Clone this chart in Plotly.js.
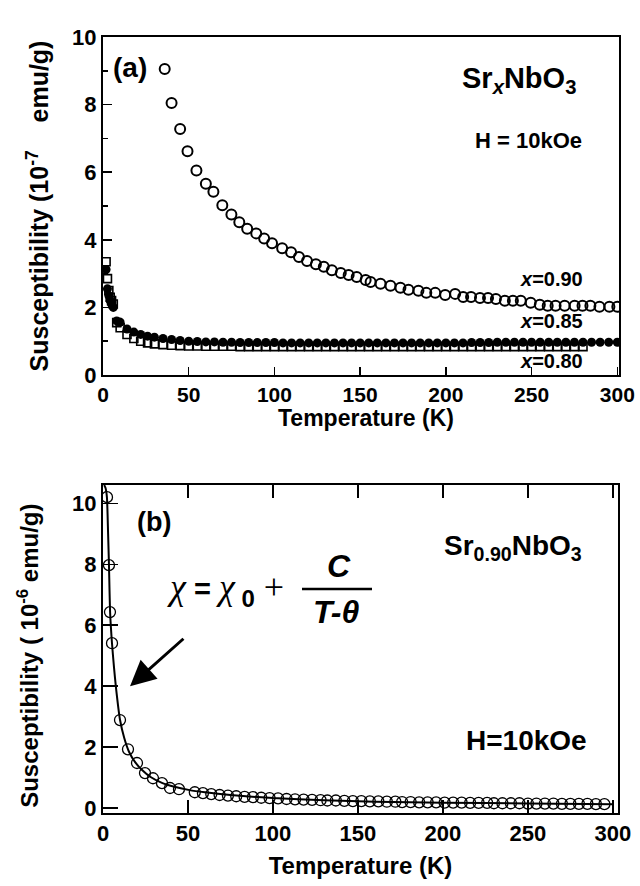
<!DOCTYPE html>
<html><head><meta charset="utf-8">
<script src="https://cdn.plot.ly/plotly-3.0.1.min.js"></script>
<style>html,body{margin:0;padding:0;background:#fff}#plot{width:640px;height:886px}</style>
</head><body><div id="plot"></div>
<script>
// Panel (a): Sr_xNbO3, susceptibility (1e-7 emu/g) vs temperature (K)
const a90_T = [36,40,45,49.3,54.5,60,64.4,69.6,74.9,79.5,84.1,89.4,94,98.6,104.5,109.7,114.3,119,124.2,128.8,133.5,138.7,143.3,148,153.2,156.1,161.9,167.7,173.5,178.2,184,188.6,193.8,199.6,205.4,210.1,214.7,219.9,224.6,229.2,234.4,239.1,243.7,249.5,254.8,259.4,264,269.3,275.1,279.7,284.3,289.6,295.4,300];
const a90_chi = [9.05,8.05,7.28,6.62,6.05,5.66,5.42,5.02,4.75,4.52,4.33,4.19,4.04,3.9,3.75,3.63,3.49,3.37,3.28,3.2,3.1,3.02,2.96,2.9,2.81,2.75,2.7,2.64,2.58,2.52,2.49,2.43,2.43,2.37,2.4,2.31,2.31,2.28,2.28,2.25,2.2,2.2,2.2,2.14,2.08,2.05,2.05,2.05,2.05,2.05,2.05,2.02,2.02,2.02];
const a85_T = [1.8,2.6,3.4,4.2,5,6,8,10,14,18,22,26,30,35,40,45,50,55,60,65,70,75,80,85,90,95,100,105,110,115,120,125,130,135,140,145,150,155,160,165,170,175,180,185,190,195,200,205,210,215,220,225,230,235,240,245,250,255,260,265,270,275,280,285,290,295,300];
const a85_chi = [3.12,2.55,2.35,2.2,2.1,2.0,1.6,1.56,1.36,1.27,1.2,1.15,1.12,1.08,1.05,1.02,1.0,0.99,0.98,0.98,0.97,0.97,0.96,0.96,0.96,0.96,0.96,0.95,0.95,0.95,0.95,0.95,0.95,0.95,0.95,0.95,0.95,0.95,0.95,0.95,0.95,0.95,0.95,0.95,0.95,0.95,0.95,0.95,0.95,0.96,0.96,0.96,0.97,0.97,0.97,0.97,0.97,0.97,0.97,0.97,0.97,0.97,0.97,0.97,0.97,0.97,0.97];
const a80_T = [1.8,2.6,3.4,4.2,5,6,8,10,14,18,22,26,30,35,40,45,50,55,60,65,70,75,80,85,90,95,100,105,110,115,120,125,130,135,140,145,150,155,160,165,170,175,180,185,190,195,200,205,210,215,220,225,230,235,240,245,250,255,260,265,270,275,280];
const a80_chi = [3.35,2.85,2.5,2.3,2.2,2.1,1.55,1.4,1.2,1.08,1.0,0.95,0.92,0.9,0.88,0.87,0.86,0.86,0.85,0.85,0.85,0.85,0.84,0.84,0.84,0.84,0.84,0.84,0.84,0.84,0.84,0.84,0.84,0.84,0.84,0.84,0.84,0.84,0.84,0.84,0.84,0.84,0.84,0.84,0.84,0.84,0.84,0.84,0.84,0.84,0.84,0.84,0.84,0.84,0.84,0.84,0.84,0.84,0.84,0.84,0.84,0.84,0.84];

// Panel (b): Sr0.90NbO3, susceptibility (1e-6 emu/g)
const b_T = [2.35,3.5,4.1,5.3,10,14.7,20,24.7,29.4,34.7,39.4,44.7,54,58.8,63.7,68.6,73.5,78.4,83.3,88.2,93.1,98,103,108,113,118,123,128,132,137,142,147,152,157,162,167,172,176,181,186,191,196,201,206,211,216,221,226,230,235,240,245,250,255,260,265,270,275,280,285,290,295];
const b_chi = [10.2,7.97,6.43,5.41,2.89,1.93,1.48,1.15,0.98,0.82,0.66,0.62,0.52,0.49,0.46,0.43,0.41,0.39,0.37,0.36,0.34,0.33,0.32,0.3,0.29,0.28,0.27,0.26,0.25,0.25,0.24,0.23,0.23,0.22,0.22,0.21,0.21,0.2,0.2,0.19,0.19,0.19,0.18,0.18,0.18,0.17,0.17,0.17,0.16,0.16,0.16,0.16,0.15,0.15,0.15,0.15,0.14,0.14,0.14,0.14,0.13,0.13];
const fit_T = [0.7,1.5,2.3,3.0,3.5,4.2,5.3,6.5,7.6,10,12.5,15.3,19,23,28,35,42,51,60,75,100,130,160,200,250,300];
const fit_chi = [10.6,10.5,10.2,9.0,8.0,6.4,5.4,4.6,3.97,2.9,2.3,1.85,1.5,1.25,1.02,0.82,0.7,0.59,0.52,0.43,0.33,0.26,0.21,0.18,0.15,0.13];

const W = 640, H = 886;
const px = x => x / W, py = y => 1 - y / H;
const FONT = 'Liberation Sans, Arial, sans-serif';
const SERIF = 'Liberation Serif, Times New Roman, serif';
const bold = (s, c) => ({family: FONT, size: s, color: c || '#000', weight: 'bold'});
const sansB = (t, s) => '<span style="font-family:Liberation Sans, Arial, sans-serif;font-weight:bold;font-size:' + s + 'px">' + t + '</span>';

const traces = [
  {x: a80_T, y: a80_chi, xaxis: 'x', yaxis: 'y', mode: 'markers', type: 'scatter',
   marker: {symbol: 'square-open', size: 8, color: '#000', line: {width: 1.6, color: '#000'}}},
  {x: a85_T, y: a85_chi, xaxis: 'x', yaxis: 'y', mode: 'markers', type: 'scatter',
   marker: {symbol: 'circle', size: 9, color: '#000'}},
  {x: a90_T, y: a90_chi, xaxis: 'x', yaxis: 'y', mode: 'markers', type: 'scatter',
   marker: {symbol: 'circle-open', size: 10, color: '#000', line: {width: 2, color: '#000'}}},
  {x: fit_T, y: fit_chi, xaxis: 'x2', yaxis: 'y2', mode: 'lines', type: 'scatter',
   line: {color: '#000', width: 2, shape: 'spline', smoothing: 0.6}},
  {x: b_T, y: b_chi, xaxis: 'x2', yaxis: 'y2', mode: 'markers', type: 'scatter',
   marker: {symbol: 'circle-open', size: 11, color: '#000', line: {width: 1.3, color: '#000'}}}
];

const axBase = {showgrid: false, zeroline: false, showline: true, linecolor: '#000', linewidth: 2,
  ticks: 'inside', tickcolor: '#000', tickwidth: 1.5, tickfont: bold(22)};

const layout = {
  width: W, height: H, margin: {l: 0, r: 0, t: 0, b: 0},
  paper_bgcolor: '#fff', plot_bgcolor: '#fff', showlegend: false,
  xaxis: Object.assign({}, axBase, {domain: [px(103), px(619)], anchor: 'y', range: [0, 301],
    tickvals: [0, 50, 100, 150, 200, 250, 300], ticklen: 8, mirror: true, tickfont: bold(21)}),
  yaxis: Object.assign({}, axBase, {domain: [py(375), py(37)], anchor: 'x', range: [0, 10],
    tickvals: [0, 2, 4, 6, 8, 10], ticklen: 9, mirror: true,
    minor: {tickvals: [1, 3, 5, 7, 9], ticks: 'inside', ticklen: 5, tickcolor: '#000', tickwidth: 1.5},
    title: {text: 'Susceptibility (10<sup>-7</sup>&nbsp;&nbsp;&nbsp;&nbsp;emu/g)', font: bold(25), standoff: 16}}),
  xaxis2: Object.assign({}, axBase, {domain: [px(103), px(618)], anchor: 'y2', range: [0, 303],
    tickvals: [0, 50, 100, 150, 200, 250, 300], ticklen: 13, mirror: 'ticks',
    title: {text: 'Temperature (K)', font: bold(24), standoff: 12}}),
  yaxis2: Object.assign({}, axBase, {domain: [py(813), py(485)], anchor: 'x2', range: [-0.16, 10.6],
    tickvals: [0, 2, 4, 6, 8, 10], ticklen: 15, mirror: true,
    title: {text: 'Susceptibility ( 10<sup>-6</sup> emu/g)&nbsp;&nbsp;', font: bold(24), standoff: 27}}),
  shapes: [
    {type: 'line', xref: 'paper', yref: 'paper', x0: px(302), x1: px(372), y0: py(589), y1: py(589),
     line: {color: '#000', width: 2.5}}
  ],
  annotations: [
    {xref: 'paper', yref: 'paper', x: px(366), y: py(418), xanchor: 'center', yanchor: 'middle', showarrow: false,
     text: 'Temperature (K)', font: bold(23), borderpad: 0},
    {xref: 'paper', yref: 'paper', x: px(111), y: py(68), xanchor: 'left', yanchor: 'middle', showarrow: false,
     text: '(a)', font: bold(28)},
    {xref: 'paper', yref: 'paper', x: px(578), y: py(80), xanchor: 'right', yanchor: 'middle', showarrow: false,
     text: 'Sr<sub><i>x</i></sub>NbO<sub>3</sub>', font: bold(29)},
    {xref: 'paper', yref: 'paper', x: px(584), y: py(141), xanchor: 'right', yanchor: 'middle', showarrow: false,
     text: 'H = 10kOe', font: bold(22)},
    {xref: 'paper', yref: 'paper', x: px(585), y: py(279), xanchor: 'right', yanchor: 'middle', showarrow: false,
     text: '<i>x</i>=0.90', font: bold(20)},
    {xref: 'paper', yref: 'paper', x: px(585), y: py(321), xanchor: 'right', yanchor: 'middle', showarrow: false,
     text: '<i>x</i>=0.85', font: bold(20)},
    {xref: 'paper', yref: 'paper', x: px(585), y: py(361), xanchor: 'right', yanchor: 'middle', showarrow: false,
     text: '<i>x</i>=0.80', font: bold(20)},
    {xref: 'paper', yref: 'paper', x: px(135), y: py(522), xanchor: 'left', yanchor: 'middle', showarrow: false,
     text: '(b)', font: bold(27)},
    {xref: 'paper', yref: 'paper', x: px(584), y: py(547), xanchor: 'right', yanchor: 'middle', showarrow: false,
     text: 'Sr<sub>0.90</sub>NbO<sub>3</sub>', font: bold(28)},
    {xref: 'paper', yref: 'paper', x: px(589), y: py(740), xanchor: 'right', yanchor: 'middle', showarrow: false,
     text: 'H=10kOe', font: bold(28)},
    {xref: 'paper', yref: 'paper', x: px(165), y: py(589), xanchor: 'left', yanchor: 'middle', showarrow: false,
     text: '<i>χ</i>' + sansB(' = ', 29) + '<i>χ</i><sub>' + sansB(' 0', 24) + '</sub>&nbsp;+',
     font: {family: SERIF, size: 36, color: '#000'}},
    {xref: 'paper', yref: 'paper', x: px(339), y: py(566), xanchor: 'center', yanchor: 'middle', showarrow: false,
     text: '<i>C</i>', font: bold(32)},
    {xref: 'paper', yref: 'paper', x: px(336), y: py(612), xanchor: 'center', yanchor: 'middle', showarrow: false,
     text: '<i>T-θ</i>', font: bold(32)},
    {xref: 'x2', yref: 'y2', axref: 'x2', ayref: 'y2', x: 15.9, y: 4.0, ax: 48.2, ay: 5.6, text: '',
     showarrow: true, arrowhead: 2, arrowsize: 1.7, arrowwidth: 3, arrowcolor: '#000', standoff: 0}
  ]
};

Plotly.newPlot('plot', traces, layout, {staticPlot: true});
</script></body></html>
